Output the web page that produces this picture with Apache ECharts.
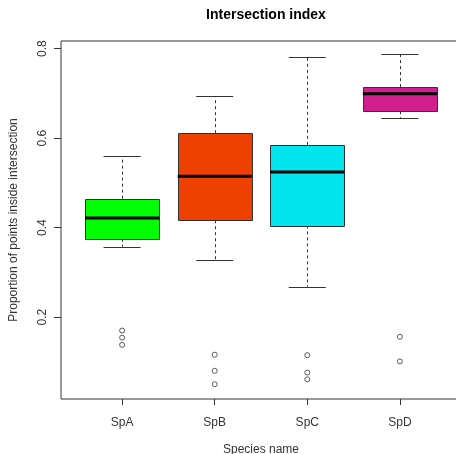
<!DOCTYPE html>
<html>
<head>
<meta charset="utf-8">
<script src="https://cdn.jsdelivr.net/npm/echarts@6/dist/echarts.min.js"></script>
<style>
html,body{margin:0;padding:0;background:#fff;}
#chart{width:456px;height:454px;}
</style>
</head>
<body>
<div id="chart"></div>
<script>
var categories = ['SpA', 'SpB', 'SpC', 'SpD'];
var whiskerLow = [0.357, 0.327, 0.268, 0.645];
var q1 = [0.375, 0.4165, 0.405, 0.660];
var median = [0.4216, 0.515, 0.524, 0.699];
var q3 = [0.4647, 0.611, 0.585, 0.714];
var whiskerHigh = [0.560, 0.693, 0.782, 0.787];
var outliers = [
  [0.170, 0.154, 0.138],
  [0.116, 0.080, 0.050],
  [0.115, 0.076, 0.061],
  [0.156, 0.101]
];
var yTicks = [0.2, 0.4, 0.6, 0.8];
var boxColors = ['#00FF00', '#EE4000', '#00E5EE', '#D02090'];

var boxData = categories.map(function (c, i) {
  return [i + 1, whiskerLow[i], q1[i], median[i], q3[i], whiskerHigh[i]];
});
var outlierData = [];
outliers.forEach(function (arr, i) {
  arr.forEach(function (v) { outlierData.push([i + 1, v]); });
});

function renderItem(params, api) {
  var x = api.value(0);
  var idx = params.dataIndex;
  var pLow = api.coord([x, api.value(1)]);
  var pQ1 = api.coord([x, api.value(2)]);
  var pMed = api.coord([x, api.value(3)]);
  var pQ3 = api.coord([x, api.value(4)]);
  var pHigh = api.coord([x, api.value(5)]);
  var boxL = api.coord([x - 0.4, 0])[0];
  var boxR = api.coord([x + 0.4, 0])[0];
  var capL = api.coord([x - 0.2, 0])[0];
  var capR = api.coord([x + 0.2, 0])[0];
  var cx = Math.round(pMed[0]) + 0.5;
  var lineCol = '#333';
  var dashStyle = { stroke: lineCol, lineWidth: 1, lineDash: [3, 3] };
  var solid = { stroke: lineCol, lineWidth: 1 };
  return {
    type: 'group',
    children: [
      { type: 'line', shape: { x1: cx, y1: pQ3[1], x2: cx, y2: pHigh[1] }, style: dashStyle },
      { type: 'line', shape: { x1: cx, y1: pQ1[1], x2: cx, y2: pLow[1] }, style: dashStyle },
      { type: 'line', shape: { x1: capL, y1: Math.round(pHigh[1]) + 0.5, x2: capR, y2: Math.round(pHigh[1]) + 0.5 }, style: solid },
      { type: 'line', shape: { x1: capL, y1: Math.round(pLow[1]) + 0.5, x2: capR, y2: Math.round(pLow[1]) + 0.5 }, style: solid },
      { type: 'rect', shape: { x: Math.round(boxL) + 0.5, y: Math.round(pQ3[1]) + 0.5, width: Math.round(boxR - boxL), height: Math.round(pQ1[1] - pQ3[1]) },
        style: { fill: boxColors[idx], stroke: lineCol, lineWidth: 1 } },
      { type: 'line', shape: { x1: boxL, y1: pMed[1], x2: boxR, y2: pMed[1] }, style: { stroke: '#000', lineWidth: 3 } }
    ]
  };
}

var chart = echarts.init(document.getElementById('chart'), null, { renderer: 'canvas' });
var font = 'Liberation Sans, Arial, sans-serif';
chart.setOption({
  animation: false,
  backgroundColor: '#fff',
  textStyle: { fontFamily: font },
  title: {
    text: 'Intersection index',
    left: 261,
    textAlign: 'center',
    top: 3,
    textStyle: { fontFamily: font, fontSize: 14, fontWeight: 'bold', color: '#000' }
  },
  grid: {
    left: 61, top: 41, right: -5, bottom: 55,
    containLabel: false,
    outerBoundsMode: 'none',
    show: true,
    borderColor: '#333',
    borderWidth: 1,
    backgroundColor: 'transparent'
  },
  xAxis: {
    type: 'value',
    min: 0.34, max: 4.66,
    name: 'Species name',
    nameLocation: 'middle',
    nameGap: 45,
    nameTextStyle: { fontFamily: font, fontSize: 12, color: '#333' },
    axisLine: { show: false },
    splitLine: { show: false },
    axisTick: { show: true, customValues: [1, 2, 3, 4], length: 6, lineStyle: { color: '#333' } },
    axisLabel: {
      customValues: [1, 2, 3, 4],
      formatter: function (v) { return categories[Math.round(v) - 1]; },
      margin: 18, fontSize: 12, color: '#333', fontFamily: font
    }
  },
  yAxis: {
    type: 'value',
    min: 0.017, max: 0.817,
    name: 'Proportion of points inside intersection',
    nameLocation: 'middle',
    nameGap: 41,
    nameRotate: 90,
    nameTextStyle: { fontFamily: font, fontSize: 12, color: '#333' },
    axisLine: { show: false },
    splitLine: { show: false },
    axisTick: { show: true, customValues: yTicks, length: 7, lineStyle: { color: '#333' } },
    axisLabel: {
      customValues: yTicks,
      rotate: 90,
      formatter: function (v) { return String(Math.round(v * 10) / 10); },
      margin: 12, fontSize: 12, color: '#333', fontFamily: font
    }
  },
  series: [
    {
      type: 'custom',
      renderItem: renderItem,
      encode: { x: 0, y: [1, 2, 3, 4, 5] },
      data: boxData,
      silent: true
    },
    {
      type: 'scatter',
      data: outlierData,
      symbol: 'circle',
      symbolSize: 5,
      itemStyle: { color: '#fff', borderColor: '#333', borderWidth: 1 },
      silent: true
    }
  ]
});
</script>
</body>
</html>
